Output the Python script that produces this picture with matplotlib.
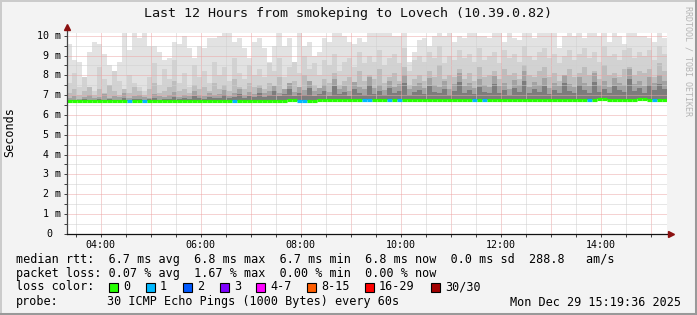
import numpy as np
import matplotlib
matplotlib.use("Agg")
import matplotlib.pyplot as plt
from matplotlib.patches import Rectangle
from matplotlib.lines import Line2D

# time axis: 12 hours ending Mon Dec 29 15:19:36, one bin = 6 minutes
start_hour = 3 + 19 / 60 + 36 / 3600
bin_hours = 0.1

# top of the smoke (max rtt, ms), 120 bins
smoke_max = [
    9.6, 8.8, 8.7, 7.9, 9.2, 9.7, 9.6, 9.1, 8.5, 7.5,
    8.7, 10.3, 9.3, 10.3, 9.9, 10.3, 9.5, 9.5, 9.2, 8.8,
    8.9, 9.7, 9.6, 10.0, 9.4, 8.9, 9.5, 9.4, 9.9, 9.9,
    10.0, 10.3, 10.3, 9.7, 9.9, 9.4, 8.9, 9.7, 9.9, 9.4,
    8.7, 9.5, 10.3, 9.5, 9.9, 8.5, 10.3, 9.5, 9.7, 9.0,
    9.2, 9.9, 9.7, 10.3, 10.3, 10.0, 9.7, 9.6, 9.9, 9.7,
    10.3, 10.3, 10.3, 10.3, 10.3, 10.0, 10.0, 10.3, 8.7, 9.2,
    9.8, 9.9, 9.5, 10.0, 10.3, 10.0, 10.3, 9.7, 10.0, 9.9,
    10.3, 10.3, 10.0, 10.0, 9.9, 10.3, 10.3, 9.7, 10.3, 9.9,
    9.8, 10.3, 10.3, 9.9, 10.3, 10.3, 10.3, 10.3, 9.4, 10.0,
    10.3, 10.0, 10.3, 9.9, 10.3, 10.3, 10.0, 10.3, 9.7, 10.3,
    10.0, 9.6, 10.3, 10.3, 10.0, 10.0, 9.9, 9.7, 10.3, 9.9,
]

# upper ping band (ms), 120 bins
smoke_p90 = [
    7.6, 8.1, 7.4, 7.9, 7.3, 7.2, 8.4, 7.8, 7.5, 8.2,
    7.7, 7.3, 8.0, 7.6, 7.4, 7.2, 7.9, 8.6, 7.5, 8.3,
    7.8, 8.8, 7.6, 8.1, 7.4, 8.5, 7.9, 8.2, 7.6, 8.7,
    8.0, 8.4, 7.7, 8.9, 8.1, 7.8, 8.5, 8.0, 8.3, 7.9,
    8.6, 8.2, 8.9, 7.9, 8.4, 8.7, 8.1, 9.0, 8.3, 8.6,
    8.0, 8.8, 8.5, 9.1, 8.2, 8.7, 8.9, 8.4, 9.2, 8.6,
    9.0, 8.7, 9.3, 8.5, 8.9, 9.1, 8.6, 9.4, 8.2, 8.8,
    9.0, 8.7, 9.2, 8.9, 9.5, 8.6, 9.0, 8.8, 9.3, 8.9,
    9.1, 8.7, 9.4, 8.8, 9.0, 9.2, 8.6, 9.3, 8.9, 9.1,
    8.7, 9.5, 9.0, 8.8, 9.2, 9.4, 8.9, 9.1, 8.6, 9.0,
    9.3, 8.8, 9.1, 9.4, 8.9, 9.2, 8.7, 9.5, 9.0, 9.1,
    8.8, 9.3, 9.4, 8.9, 9.2, 9.0, 9.3, 8.8, 9.5, 9.1,
]

# middle ping band (ms), 120 bins
smoke_p75 = [
    7.1, 7.3, 7.0, 7.2, 7.4, 7.0, 7.3, 7.1, 7.5, 7.2,
    7.0, 7.3, 7.1, 7.4, 7.2, 7.0, 7.3, 7.6, 7.1, 7.2,
    7.4, 7.7, 7.2, 7.3, 7.1, 7.5, 7.3, 7.4, 7.2, 7.6,
    7.3, 7.5, 7.2, 7.8, 7.4, 7.3, 7.6, 7.4, 7.5, 7.3,
    7.6, 7.4, 7.9, 7.3, 7.5, 7.7, 7.4, 8.0, 7.6, 7.5,
    7.3, 7.8, 7.6, 8.1, 7.5, 7.7, 7.9, 7.6, 8.2, 7.7,
    8.0, 7.8, 8.3, 7.6, 7.9, 8.1, 7.7, 8.4, 7.5, 7.8,
    8.0, 7.7, 8.2, 7.9, 8.5, 7.8, 8.0, 7.9, 8.3, 7.8,
    8.1, 7.7, 8.4, 7.9, 8.0, 8.2, 7.8, 8.3, 8.0, 8.1,
    7.8, 8.5, 8.0, 7.9, 8.2, 8.4, 7.9, 8.1, 7.7, 8.0,
    8.3, 7.9, 8.1, 8.4, 8.0, 8.2, 7.8, 8.5, 8.0, 8.1,
    7.9, 8.3, 8.4, 8.0, 8.2, 8.1, 8.3, 7.9, 8.6, 8.2,
]

# inner ping bands (ms), 120 bins
smoke_p60 = [
    6.85, 6.95, 6.8, 6.9, 7.0, 6.85, 6.9, 7.05, 6.85, 6.95,
    6.9, 7.1, 6.85, 6.95, 7.0, 6.9, 6.85, 7.05, 6.95, 6.9,
    7.0, 7.15, 6.9, 7.0, 6.95, 7.2, 7.0, 6.95, 7.1, 7.0,
    7.05, 7.25, 6.95, 7.1, 7.3, 7.0, 7.15, 7.05, 7.35, 7.1,
    7.2, 7.45, 7.1, 7.3, 7.6, 7.15, 7.4, 7.25, 7.7, 7.2,
    7.35, 7.5, 7.15, 7.8, 7.3, 7.45, 7.2, 7.65, 7.4, 7.3,
    7.9, 7.35, 7.5, 7.25, 7.7, 7.4, 7.55, 8.0, 7.3, 7.45,
    7.6, 7.35, 7.85, 7.5, 7.4, 7.7, 7.3, 7.55, 8.1, 7.45,
    7.6, 7.35, 7.8, 7.5, 7.4, 7.95, 7.45, 7.6, 7.3, 7.75,
    7.5, 8.2, 7.4, 7.65, 7.5, 7.85, 7.35, 7.6, 7.45, 8.0,
    7.55, 7.4, 7.9, 7.6, 7.45, 8.1, 7.5, 7.7, 7.4, 7.85,
    7.6, 7.5, 8.3, 7.55, 7.7, 7.45, 7.9, 7.6, 8.0, 7.7,
]
smoke_p55 = [
    6.75, 6.78, 6.74, 6.8, 6.76, 6.78, 6.82, 6.76, 6.8, 6.78,
    6.76, 6.85, 6.78, 6.8, 6.82, 6.76, 6.8, 6.86, 6.78, 6.82,
    6.8, 6.9, 6.8, 6.84, 6.82, 6.95, 6.84, 6.82, 6.9, 6.86,
    6.88, 7.0, 6.85, 6.9, 7.05, 6.88, 6.95, 6.9, 7.1, 6.92,
    7.0, 7.2, 6.95, 7.05, 7.3, 6.95, 7.1, 7.0, 7.35, 6.98,
    7.05, 7.2, 6.95, 7.45, 7.05, 7.15, 6.98, 7.3, 7.1, 7.02,
    7.5, 7.05, 7.2, 7.0, 7.35, 7.1, 7.2, 7.6, 7.02, 7.15,
    7.25, 7.05, 7.45, 7.15, 7.1, 7.3, 7.0, 7.2, 7.65, 7.1,
    7.25, 7.05, 7.4, 7.15, 7.1, 7.55, 7.1, 7.25, 7.0, 7.35,
    7.15, 7.7, 7.1, 7.3, 7.15, 7.45, 7.05, 7.25, 7.1, 7.6,
    7.2, 7.1, 7.5, 7.25, 7.1, 7.65, 7.15, 7.3, 7.1, 7.45,
    7.25, 7.15, 7.8, 7.2, 7.35, 7.1, 7.5, 7.25, 7.55, 7.3,
]

# median rtt (ms), 60 bins of 12 minutes
median_rtt = [
    6.70, 6.71, 6.70, 6.72, 6.71, 6.70, 6.70, 6.71, 6.72, 6.70,
    6.71, 6.70, 6.72, 6.71, 6.70, 6.72, 6.73, 6.72, 6.71, 6.72,
    6.73, 6.72, 6.74, 6.73, 6.72, 6.74, 6.75, 6.74, 6.75, 6.74,
    6.76, 6.75, 6.76, 6.77, 6.76, 6.77, 6.76, 6.77, 6.78, 6.77,
    6.77, 6.78, 6.77, 6.76, 6.78, 6.77, 6.78, 6.77, 6.78, 6.77,
    6.78, 6.77, 6.78, 6.79, 6.78, 6.77, 6.78, 6.79, 6.78, 6.78,
]

# bins (6 minutes) with lost pings
loss_bins = [12, 15, 33, 46, 47, 59, 60, 64, 66, 81, 83, 104, 117]
loss_counts = [1, 1, 1, 1, 1, 1, 1, 1, 1, 1, 1, 1, 1]

loss_labels = ["0", "1", "2", "3", "4-7", "8-15", "16-29", "30/30"]
loss_colors = ["#26ff00", "#00b8ff", "#0059ff", "#7e00ff",
               "#ff00ff", "#ff5e00", "#ff0000", "#a10000"]

y_ticks = [0, 1, 2, 3, 4, 5, 6, 7, 8, 9, 10]
x_ticks = [4, 6, 8, 10, 12, 14]

W, H, DPI = 697, 315, 100
mono = "DejaVu Sans Mono"
bg = "#f3f3f3"


def px(x, y):
    return x / W, 1 - y / H


fig = plt.figure(figsize=(W / DPI, H / DPI), dpi=DPI, facecolor=bg)
ax = fig.add_axes([67 / W, (H - 233.8) / H, 600 / W, (233.8 - 33) / H])
ax.set_facecolor("white")

n = len(smoke_max)
edges = start_hour + bin_hours * np.arange(n + 1)
med = np.repeat(median_rtt, 2)


def step(vals):
    vals = np.asarray(vals, dtype=float)
    return np.append(vals, vals[-1])


layers = [
    (smoke_max, "#e2e2e2"),
    (smoke_p90, "#d2d2d2"),
    (smoke_p75, "#bdbdbd"),
    (smoke_p60, "#a2a2a2"),
    (smoke_p55, "#7c7c7c"),
]
for vals, col in layers:
    ax.fill_between(edges, step(med), step(vals), step="post",
                    color=col, linewidth=0, zorder=1)

# median line coloured by loss
loss = np.zeros(n, dtype=int)
for b, c in zip(loss_bins, loss_counts):
    loss[b] = c
seg_cols = [loss_colors[min(c, 3)] for c in loss]
ax.hlines(med, edges[:-1], edges[1:], colors=seg_cols, linewidth=2.3, zorder=4)

ax.set_xlim(start_hour, start_hour + 12)
ax.set_ylim(0, 10.14)

# grid
ax.set_xticks(np.arange(4, 16, 1))
ax.set_xticklabels(["%02d:00" % h if h in x_ticks else "" for h in range(4, 16)])
ax.set_xticks(np.arange(3.5, 15.5, 1), minor=True)
ax.set_yticks(y_ticks)
ax.set_yticklabels([])
ax.set_yticks(np.arange(0.5, 10.5, 1), minor=True)
ax.grid(True, which="major", color="#eda6a6", linestyle=(0, (1, 1)), linewidth=0.72)
ax.grid(True, which="minor", color="#cfcfcf", linestyle=(0, (1, 1)), linewidth=0.72)
ax.set_axisbelow(False)

ax.tick_params(axis="both", which="both", direction="out", length=2,
               width=0.72, color="#444444", pad=2.5)
ax.tick_params(axis="x", labelsize=7.2)
for lab in ax.get_xticklabels():
    lab.set_family(mono)

for s in ["top", "right"]:
    ax.spines[s].set_visible(False)
ax.spines["left"].set_visible(False)
ax.spines["bottom"].set_color("#111111")
ax.spines["bottom"].set_linewidth(0.9)
ax.spines["bottom"].set_zorder(5)
ax.plot([0, 0], [0, 1.02], transform=ax.transAxes, color="#444444",
        linewidth=0.9, clip_on=False, zorder=5)
ax.plot([0], [1.03], transform=ax.transAxes, marker="^", markersize=4.5,
        color="#8b1010", clip_on=False, zorder=6)
ax.plot([1.006], [0], transform=ax.transAxes, marker=">", markersize=4.5,
        color="#8b1010", clip_on=False, zorder=6)

# y labels
for v in y_ticks:
    if v == 0:
        ax.text(-15 / 600, v, "0", transform=ax.get_yaxis_transform(),
                ha="right", va="center", family=mono, fontsize=7.2)
    else:
        ax.text(-6 / 600, v, "%d m" % v, transform=ax.get_yaxis_transform(),
                ha="right", va="center", family=mono, fontsize=7.2)

# title and side texts
fig.text(*px(348, 14), "Last 12 Hours from smokeping to Lovech (10.39.0.82)",
         ha="center", va="center", family=mono, fontsize=9.6, color="#111111")
fig.text(*px(10, 132), "Seconds", rotation=90, ha="center", va="center",
         family=mono, fontsize=8.5)
fig.text(*px(688, 6), "RRDTOOL / TOBI OETIKER", rotation=270, ha="center",
         va="top", family=mono, fontsize=6, color="#b5b5b5")

# legend block
fs = 8.5
fig.text(*px(16, 260), "median rtt:  6.7 ms avg  6.8 ms max  6.7 ms min  "
         "6.8 ms now  0.0 ms sd  288.8   am/s",
         ha="left", va="center", family=mono, fontsize=fs)
fig.text(*px(16, 273.5), "packet loss: 0.07 % avg  1.67 % max  0.00 % min  0.00 % now",
         ha="left", va="center", family=mono, fontsize=fs)
fig.text(*px(16, 287), "loss color:", ha="left", va="center", family=mono, fontsize=fs)
box_x = [109, 146, 183, 220, 256, 307, 365, 431]
for bx, lab, col in zip(box_x, loss_labels, loss_colors):
    x0, y0 = px(bx, 291.5)
    fig.add_artist(Rectangle((x0, y0), 9 / W, 9 / H, facecolor=col,
                             edgecolor="black", linewidth=0.8,
                             transform=fig.transFigure))
    fig.text(*px(bx + 14, 287), lab, ha="left", va="center", family=mono, fontsize=fs)
fig.text(*px(16, 302), "probe:", ha="left", va="center", family=mono, fontsize=fs)
fig.text(*px(107, 302), "30 ICMP Echo Pings (1000 Bytes) every 60s",
         ha="left", va="center", family=mono, fontsize=fs)
fig.text(*px(681, 302), "Mon Dec 29 15:19:36 2025",
         ha="right", va="center", family=mono, fontsize=fs)

# frame around the image
fig.add_artist(Line2D([0, 1], [1 - 1 / H, 1 - 1 / H], color="#cbcbcb", linewidth=1.44,
                      transform=fig.transFigure))
fig.add_artist(Line2D([1 / W, 1 / W], [0, 1], color="#cbcbcb", linewidth=1.44,
                      transform=fig.transFigure))
fig.add_artist(Line2D([0, 1], [1.5 / H, 1.5 / H], color="#999999", linewidth=2.2,
                      transform=fig.transFigure))
fig.add_artist(Line2D([1 - 1.5 / W, 1 - 1.5 / W], [0, 1], color="#999999", linewidth=2.2,
                      transform=fig.transFigure))

fig.savefig("out.png", dpi=DPI, facecolor=bg)
